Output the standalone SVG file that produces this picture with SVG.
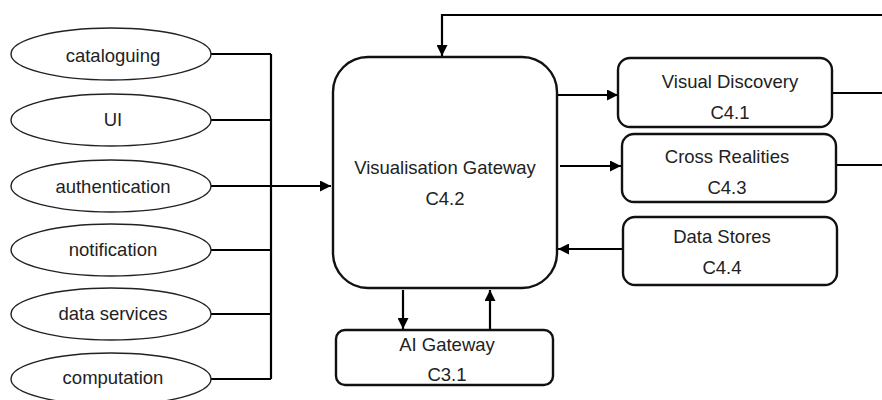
<svg xmlns="http://www.w3.org/2000/svg" width="882" height="400" viewBox="0 0 882 400">
<defs>
<marker id="ah" viewBox="0 0 10 10" refX="10" refY="5" markerWidth="5" markerHeight="5" orient="auto" markerUnits="strokeWidth">
<path d="M0,0 L10,5 L0,10 z" fill="#000"/>
</marker>
<style>
text{font-family:"Liberation Sans",Arial,sans-serif;font-size:18.5px;fill:#222;text-anchor:middle}
.el{fill:#fff;stroke:#222;stroke-width:1.4}
.bx{fill:#fff;stroke:#111;stroke-width:2.4}
.ln{fill:none;stroke:#000;stroke-width:2.2}
.ar{fill:none;stroke:#000;stroke-width:2.2;marker-end:url(#ah)}
</style>
</defs>
<rect width="882" height="400" fill="#fff"/>
<g id="connectors">
<path class="ln" d="M211,54 H271 M211,120 H271 M211,250 H271 M211,314 H271 M211,379 H271 M271,54 V379"/>
<path class="ar" d="M211,186 H331"/>
<path class="ar" d="M882,15 H442 V56"/>
<path class="ar" d="M557,95 H618"/>
<path class="ar" d="M560,166 H621"/>
<path class="ar" d="M623,249 H558"/>
<path class="ln" d="M832,93 H882 M836,165 H882"/>
<path class="ar" d="M403,290 V329"/>
<path class="ar" d="M490,330 V290"/>
</g>
<g id="cataloguing"><ellipse class="el" cx="111" cy="54" rx="100" ry="26"/><text x="113" y="62">cataloguing</text></g>
<g id="ui"><ellipse class="el" cx="111" cy="120" rx="100" ry="26"/><text x="113" y="126">UI</text></g>
<g id="authentication"><ellipse class="el" cx="111" cy="186" rx="100" ry="26"/><text x="113" y="193">authentication</text></g>
<g id="notification"><ellipse class="el" cx="111" cy="250" rx="100" ry="26"/><text x="113" y="256">notification</text></g>
<g id="data-services"><ellipse class="el" cx="111" cy="314" rx="100" ry="26"/><text x="113" y="320">data services</text></g>
<g id="computation"><ellipse class="el" cx="111" cy="379" rx="100" ry="26"/><text x="113" y="384">computation</text></g>
<g id="visualisation-gateway"><rect class="bx" x="333" y="57" width="224" height="231" rx="35"/><text x="445" y="174">Visualisation Gateway</text><text x="445" y="205">C4.2</text></g>
<g id="ai-gateway"><rect class="bx" x="336" y="330" width="217" height="55" rx="9"/><text x="447" y="351">AI Gateway</text><text x="447" y="381">C3.1</text></g>
<g id="visual-discovery"><rect class="bx" x="618" y="58" width="214" height="69" rx="12"/><text x="730" y="88">Visual Discovery</text><text x="730" y="119">C4.1</text></g>
<g id="cross-realities"><rect class="bx" x="622" y="134" width="214" height="68" rx="12"/><text x="727" y="163">Cross Realities</text><text x="727" y="194">C4.3</text></g>
<g id="data-stores"><rect class="bx" x="623" y="217" width="214" height="68" rx="12"/><text x="722" y="243">Data Stores</text><text x="722" y="274">C4.4</text></g>
</svg>
